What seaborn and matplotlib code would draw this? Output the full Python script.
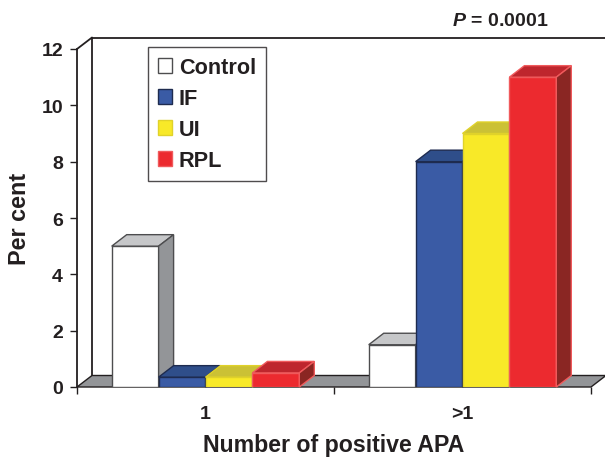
import matplotlib
matplotlib.use("Agg")
import matplotlib.pyplot as plt
from matplotlib.patches import Polygon, Patch
from matplotlib.lines import Line2D
import seaborn as sns
import pandas as pd

categories = ["1", ">1"]
groups = ["Control", "IF", "UI", "RPL"]
control_vals = [5.0, 1.5]
if_vals = [0.35, 8.0]
ui_vals = [0.35, 9.0]
rpl_vals = [0.5, 11.0]
y_ticks = [0, 2, 4, 6, 8, 10, 12]

front = {"Control": "#ffffff", "IF": "#3a5ba5", "UI": "#f8e928", "RPL": "#ec2a2f"}
top_c = {"Control": "#c6c7c9", "IF": "#2f4e8a", "UI": "#cbc135", "RPL": "#be262d"}
side_c = {"Control": "#939598", "IF": "#233b6a", "UI": "#a59d20", "RPL": "#8a2623"}
edge_c = {"Control": "#4d4d4f", "IF": "#1e2b4f", "UI": "#e0d22a", "RPL": "#f05a5c"}

rows = []
for g, vals in zip(groups, [control_vals, if_vals, ui_vals, rpl_vals]):
    for c, v in zip(categories, vals):
        rows.append({"cat": c, "group": g, "val": v})
df = pd.DataFrame(rows)

sns.set_style("white")
plt.rcParams["font.family"] = ["Liberation Sans", "DejaVu Sans"]
plt.rcParams["font.weight"] = "bold"
plt.rcParams["mathtext.fontset"] = "custom"
plt.rcParams["mathtext.bfit"] = "Liberation Sans:italic:bold"
plt.rcParams["mathtext.rm"] = "Liberation Sans:bold"
plt.rcParams["mathtext.bf"] = "Liberation Sans:bold"

W, H = 605, 460
fig = plt.figure(figsize=(6.05, 4.6), dpi=100)
L, R, B, T = 77, 591, 388, 50
ax = fig.add_axes([L / W, 1 - B / H, (R - L) / W, (B - T) / H])

sns.barplot(data=df, x="cat", y="val", hue="group", order=categories,
            hue_order=groups, palette=front, width=0.73, ax=ax,
            legend=False, saturation=1, errorbar=None)

ax.set_xlim(-0.5, 1.5)
ax.set_ylim(0, 12)

# depth offsets in data units (15 px right, 11.5 px up)
dx = 15 / ((R - L) / 2.0)
dy = 11.5 / ((B - T) / 12.0)

bars = []
for g, cont in zip(groups, ax.containers):
    for p in cont:
        bars.append((p.get_x(), g, p))
bars.sort(key=lambda t: t[0])

z = 3
for x0, g, p in bars:
    w = p.get_width()
    h = p.get_height()
    p.set_edgecolor(edge_c[g])
    p.set_linewidth(1.0)
    p.set_zorder(z)
    topp = Polygon([(x0, h), (x0 + w, h), (x0 + w + dx, h + dy), (x0 + dx, h + dy)],
                   closed=True, facecolor=top_c[g], edgecolor=edge_c[g], lw=1.0,
                   zorder=z + 1, clip_on=False)
    sidep = Polygon([(x0 + w, 0), (x0 + w + dx, dy), (x0 + w + dx, h + dy), (x0 + w, h)],
                    closed=True, facecolor=side_c[g], edgecolor=edge_c[g], lw=1.0,
                    zorder=z + 2, clip_on=False)
    ax.add_patch(topp)
    ax.add_patch(sidep)
    z += 3

# floor
floor = Polygon([(-0.5, 0), (1.5, 0), (1.5 + dx, dy), (-0.5 + dx, dy)], closed=True,
                facecolor="#939598", edgecolor="#231f20", lw=1.0, zorder=1, clip_on=False)
ax.add_patch(floor)

# back wall lines
lk = dict(color="#231f20", lw=1.3, clip_on=False, zorder=0.5)
xmax_line = -0.5 + (W - L) / ((R - L) / 2.0)
ax.add_line(Line2D([-0.5 + dx, -0.5 + dx], [dy, 12 + dy], **lk))
ax.add_line(Line2D([-0.5, -0.5 + dx], [12, 12 + dy], **lk))
ax.add_line(Line2D([-0.5 + dx, xmax_line], [12 + dy, 12 + dy], **lk))

for s in ["top", "right", "bottom"]:
    ax.spines[s].set_visible(False)
ax.spines["left"].set_color("#231f20")
ax.spines["left"].set_linewidth(1.3)

ax.set_yticks(y_ticks)
ax.set_yticklabels([str(t) for t in y_ticks], fontsize=14, fontweight="bold", color="#231f20")
ax.tick_params(axis="y", direction="out", length=5, width=1, pad=5, left=True, colors="#231f20")

ax.set_xticks([0, 1])
ax.set_xticklabels(categories, fontsize=14, fontweight="bold", color="#231f20")
ax.set_xticks([-0.5, 0.5, 1.5], minor=True)
ax.tick_params(axis="x", which="major", length=0, pad=13)
ax.tick_params(axis="x", which="minor", direction="out", length=5, width=1,
               bottom=True, color="#231f20")

ax.set_ylabel("Per cent", fontsize=16.8, fontweight="bold", color="#231f20")
ax.yaxis.set_label_coords(-0.111, 0.5)
ax.yaxis.label.set_va("center")
ax.set_xlabel("Number of positive APA", fontsize=16.7, fontweight="bold", color="#231f20")
ax.xaxis.set_label_coords(0.5, (B - 446) / (B - T))
ax.xaxis.label.set_va("center")

fig.text(500 / W, 1 - 22 / H, r"$\bfit{P}$ = 0.0001", fontsize=14, fontweight="bold",
         ha="center", va="center", color="#231f20")

handles = [Patch(facecolor=front[g], edgecolor=edge_c[g], lw=1.0) for g in groups]
leg = ax.legend(handles, groups, loc="upper left",
                bbox_to_anchor=(148 / W, 1 - 48 / H), bbox_transform=fig.transFigure,
                borderaxespad=0, frameon=True, fancybox=False, shadow=False,
                prop={"size": 15.6, "weight": "bold"}, handlelength=0.68, handleheight=0.68,
                handletextpad=0.3, labelspacing=0.47, borderpad=0.45)
leg.get_frame().set_edgecolor("#231f20")
leg.get_frame().set_linewidth(1.0)
leg.set_zorder(100)
for t in leg.get_texts():
    t.set_color("#231f20")

fig.savefig("out.png", dpi=100)
